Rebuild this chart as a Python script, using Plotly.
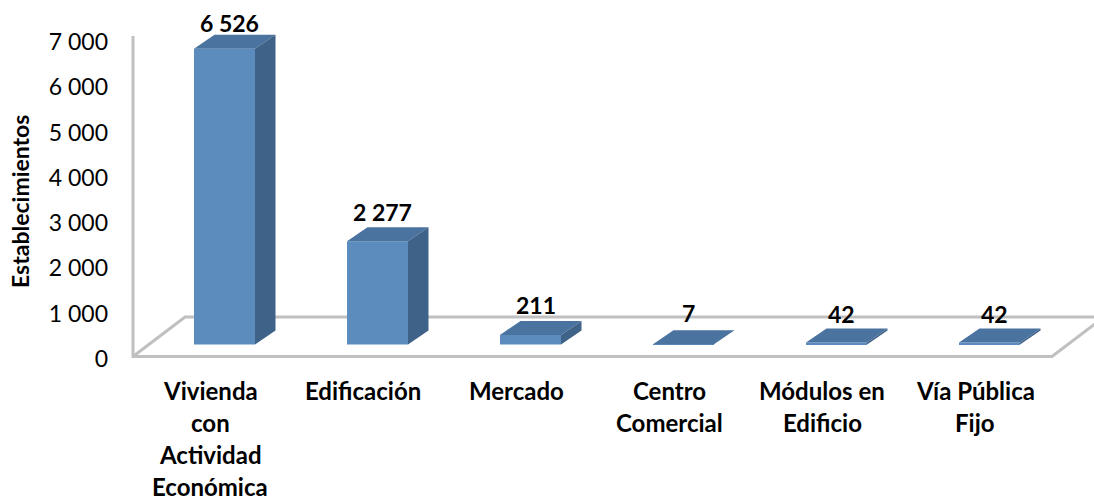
import plotly.graph_objects as go

category_lines = [
    ["Vivienda", "con", "Actividad", "Económica"],
    ["Edificación"],
    ["Mercado"],
    ["Centro", "Comercial"],
    ["Módulos en", "Edificio"],
    ["Vía Pública", "Fijo"],
]
values = [6526, 2277, 211, 7, 42, 42]
value_labels = ["6 526", "2 277", "211", "7", "42", "42"]
y_ticks = [0, 1000, 2000, 3000, 4000, 5000, 6000, 7000]
y_tick_labels = ["0", "1 000", "2 000", "3 000", "4 000", "5 000", "6 000", "7 000"]
y_title = "Establecimientos"

FONT = "Lato"
FRONT, SIDE, TOP = "#5c8cbe", "#3f6288", "#4a739f"
GRID = "#c0c0c0"
label_shift = [-4, -1, 0, 1, -1, -1]

# canvas geometry
W, H = 1094, 500
Y0_PX = 359               # pixel row of value 0
ML, MT, MB = 130, 30, H - Y0_PX
PX_CAT = 153.0            # pixels per category
X0_PX = 224.5             # pixel centre of the first bar front
PX_VAL = 45.3 / 1000      # pixels per unit of value
plot_w = W - ML
plot_h = H - MT - MB

xmin = (ML - X0_PX) / PX_CAT
xmax = (W - X0_PX) / PX_CAT
ymax = plot_h / PX_VAL

DX = 20.5 / PX_CAT        # depth of bars
DY = 14 / PX_VAL
BASE = (Y0_PX - 344.5) / PX_VAL   # bars stand behind the front floor edge
BAR_W = 61 / PX_CAT
FLOOR_L = xmin + 3 / PX_CAT
FLOOR_R = FLOOR_L + 919 / PX_CAT
FLOOR_Y = (Y0_PX - 356.5) / PX_VAL
FLOOR_DX = 52 / PX_CAT
FLOOR_DY = 39.5 / PX_VAL
AXIS_TOP = (Y0_PX - 36) / PX_VAL

fig = go.Figure()
xs = list(range(len(values)))
fig.add_trace(go.Bar(x=xs, y=values, base=[BASE] * len(values), width=BAR_W,
                     marker=dict(color=FRONT, line=dict(width=0)), hoverinfo="skip"))

for i, v in zip(xs, values):
    l, r = i - BAR_W / 2, i + BAR_W / 2
    t = BASE + v
    fig.add_trace(go.Scatter(x=[l, r, r + DX, l + DX, l], y=[t, t, t + DY, t + DY, t],
                             mode="lines", fill="toself", fillcolor=TOP, line=dict(width=0),
                             hoverinfo="skip", cliponaxis=False))
    fig.add_trace(go.Scatter(x=[r, r + DX, r + DX, r, r],
                             y=[BASE, BASE + DY, t + DY, t, BASE],
                             mode="lines", fill="toself", fillcolor=SIDE, line=dict(width=0),
                             hoverinfo="skip", cliponaxis=False))

annotations = []
for i, v, lab, s in zip(xs, values, value_labels, label_shift):
    annotations.append(dict(x=i + 5 / PX_CAT, y=BASE + v + DY, xref="x", yref="y", text=f"<b>{lab}</b>",
                            showarrow=False, yanchor="bottom", yshift=s,
                            font=dict(family=FONT, size=23, color="#000000")))

for i, lines in enumerate(category_lines):
    for j, line in enumerate(lines):
        annotations.append(dict(x=i - 14.5 / PX_CAT, y=-(31 + 32 * j) / plot_h, xref="x", yref="paper",
                                text=f"<b>{line}</b>", showarrow=False, yanchor="middle",
                                font=dict(family=FONT, size=24, color="#000000")))

annotations.append(dict(x=(20 - ML) / plot_w, y=(H - MB - 202) / plot_h,
                        xref="paper", yref="paper", text=f"<b>{y_title}</b>",
                        showarrow=False, textangle=-90, yanchor="middle", xanchor="center",
                        font=dict(family=FONT, size=23, color="#000000")))

shapes = [
    dict(type="path", xref="x", yref="y", layer="below",
         path=f"M {FLOOR_L},{AXIS_TOP} L {FLOOR_L},{FLOOR_Y} L {FLOOR_R},{FLOOR_Y} "
              f"L {FLOOR_R + FLOOR_DX},{FLOOR_Y + FLOOR_DY} "
              f"L {FLOOR_L + FLOOR_DX},{FLOOR_Y + FLOOR_DY} L {FLOOR_L},{FLOOR_Y}",
         line=dict(color=GRID, width=3)),
]

fig.update_layout(
    width=W, height=H, autosize=False,
    margin=dict(l=ML, r=0, t=MT, b=MB, pad=0),
    paper_bgcolor="white", plot_bgcolor="white",
    showlegend=False,
    xaxis=dict(range=[xmin, xmax], visible=False),
    yaxis=dict(range=[0, ymax], tickmode="array", tickvals=y_ticks, ticktext=y_tick_labels,
               showgrid=False, zeroline=False, showline=False, ticks="",
               ticklabelstandoff=21,
               tickfont=dict(family=FONT, size=23, color="#000000")),
    annotations=annotations,
    shapes=shapes,
)
fig.write_html(
    "out.html",
    config={"displayModeBar": False},
    post_script="document.body.style.margin='0';document.documentElement.style.overflow='hidden';",
)
